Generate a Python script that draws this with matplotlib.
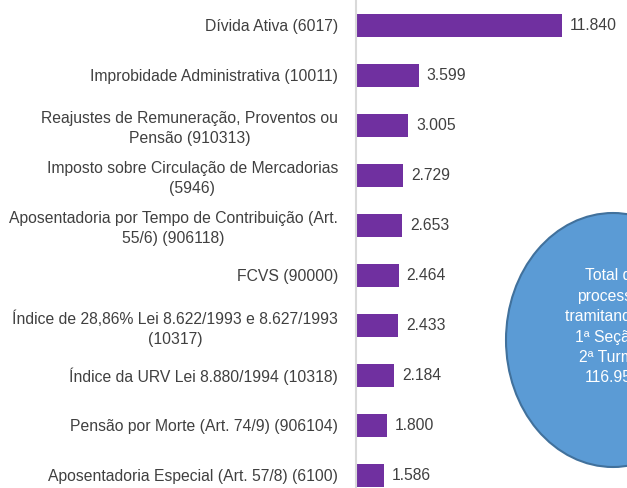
import matplotlib
matplotlib.use("Agg")
import matplotlib.pyplot as plt
from matplotlib.patches import Ellipse

categories = [
    "Dívida Ativa (6017)",
    "Improbidade Administrativa (10011)",
    "Reajustes de Remuneração, Proventos ou\nPensão (910313)",
    "Imposto sobre Circulação de Mercadorias\n(5946)",
    "Aposentadoria por Tempo de Contribuição (Art.\n55/6) (906118)",
    "FCVS (90000)",
    "Índice de 28,86% Lei 8.622/1993 e 8.627/1993\n(10317)",
    "Índice da URV Lei 8.880/1994 (10318)",
    "Pensão por Morte (Art. 74/9) (906104)",
    "Aposentadoria Especial (Art. 57/8) (6100)",
]
values = [11840, 3599, 3005, 2729, 2653, 2464, 2433, 2184, 1800, 1586]
value_labels = ["11.840", "3.599", "3.005", "2.729", "2.653", "2.464", "2.433", "2.184", "1.800", "1.586"]
total_text = "Total de\nprocessos\ntramitando na\n1ª Seção e\n2ª Turma:\n116.958"

plt.rcParams["font.family"] = ["Liberation Sans", "DejaVu Sans"]
text_color = "#404040"
fs = 11.3

fig = plt.figure(figsize=(6.27, 4.88), dpi=100)
ax = fig.add_axes([356 / 627, 0, 1 - 356 / 627, 1])

y = list(range(len(categories)))
ax.barh(y, values, height=0.46, color="#7030A0")
for yi, v, lab in zip(y, values, value_labels):
    ax.text(v + 450, yi, lab, va="center", ha="left", fontsize=fs, color=text_color)

ax.set_xlim(0, 15576)
ax.set_ylim(9.26, -0.5)
ax.set_yticks(y)
ax.set_yticklabels(categories, fontsize=fs, color=text_color, multialignment="center",
                   linespacing=1.4)
ax.tick_params(axis="y", length=0, pad=13)
ax.set_xticks([])
for side in ["top", "right", "bottom"]:
    ax.spines[side].set_visible(False)
ax.spines["left"].set_color("#D9D9D9")
ax.spines["left"].set_linewidth(1.5)

# circle with the total, in figure pixel coordinates
ell = Ellipse((613, 488 - 340), 214, 254, transform=None,
              facecolor="#5B9BD5", edgecolor="#41719C", linewidth=1.5, zorder=5)
fig.patches.append(ell)
fig.text(613 / 627, 1 - 327 / 488, total_text, ha="center", va="center",
         fontsize=fs, color="white", linespacing=1.45, zorder=6)

fig.savefig("out.png", dpi=100)
